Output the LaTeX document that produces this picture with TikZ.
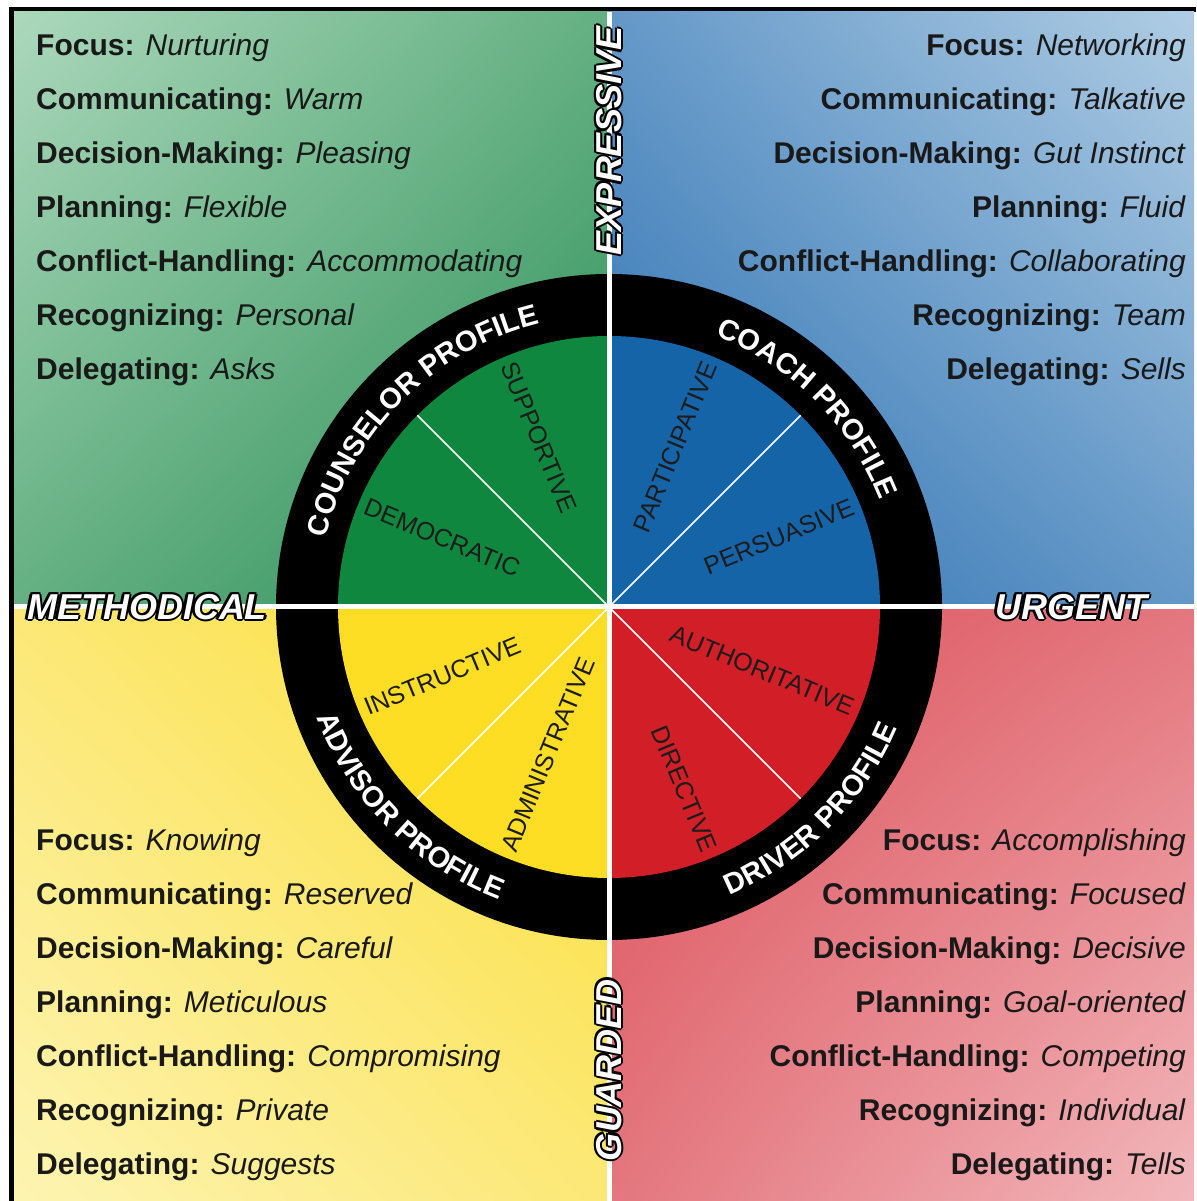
\documentclass[tikz,border=0pt]{standalone}
\usepackage{fontspec}
\setmainfont{Liberation Sans}
\usetikzlibrary{calc,shadings,decorations.text}
\tikzset{>=latex}

% Fonts
\newcommand\itemfont{\fontsize{30}{36}\selectfont}
\newcommand\wedgefont{\fontsize{25}{30}\selectfont}
\newcommand\ringfont{\fontsize{29}{34}\selectfont\bfseries}
\newcommand\axisfont{\fontsize{36}{42}\selectfont\bfseries\itshape}

% Colours
\definecolor{counLight}{RGB}{172,216,188}
\definecolor{counMid}{RGB}{100,176,130}
\definecolor{counDark}{RGB}{40,140,85}
\definecolor{coachLight}{RGB}{176,205,228}
\definecolor{coachMid}{RGB}{100,152,200}
\definecolor{coachDark}{RGB}{40,110,176}
\definecolor{advLight}{RGB}{253,244,178}
\definecolor{advMid}{RGB}{252,232,118}
\definecolor{advDark}{RGB}{252,222,52}
\definecolor{drvLight}{RGB}{242,184,188}
\definecolor{drvMid}{RGB}{228,118,126}
\definecolor{drvDark}{RGB}{220,80,90}
\definecolor{counsel}{RGB}{16,135,62}
\definecolor{coach}{RGB}{22,100,168}
\definecolor{advisor}{RGB}{253,222,36}
\definecolor{driver}{RGB}{210,30,38}
\definecolor{ink}{RGB}{28,28,28}

\tikzset{
  item/.style={inner sep=0pt, text=black!90, font=\itemfont},
  wedge label/.style={inner sep=0pt, text=ink, font=\wedgefont},
  axis label/.style={inner sep=0pt, font=\axisfont},
  ring text/.style={decorate, decoration={text along path, text align=center,
      text color=white, text={|\ringfont|#1}}},
  divider/.style={white, line width=1.5pt},
  cross/.style={white, line width=5pt},
}

\begin{document}
\begin{tikzpicture}[x=1pt,y=1pt]
  % Canvas and frame
  \useasboundingbox (0,0) rectangle (1196,1201);
  \fill[white] (0,0) rectangle (1196,1201);
  \fill[black] (9,0) rectangle (14,1194);
  \fill[black] (9,1189) rectangle (1196,1194);

  % Quadrants
  \coordinate (c) at (609,594);
  \shade[upper left=counLight, upper right=counMid, lower left=counMid, lower right=counDark]
    (14,594) rectangle (609,1189);
  \shade[upper left=coachMid, upper right=coachLight, lower left=coachDark, lower right=coachMid]
    (609,594) rectangle (1194,1189);
  \shade[upper left=advMid, upper right=advDark, lower left=advLight, lower right=advMid]
    (14,0) rectangle (609,594);
  \shade[upper left=drvDark, upper right=drvMid, lower left=drvMid, lower right=drvLight]
    (609,0) rectangle (1194,594);

  % Wheel
  \fill[black] (c) circle[radius=333pt];
  \fill[counsel] (c) -- ++(90:271pt) arc[start angle=90, end angle=180, radius=271pt] -- cycle;
  \fill[coach] (c) -- ++(0:271pt) arc[start angle=0, end angle=90, radius=271pt] -- cycle;
  \fill[advisor] (c) -- ++(180:271pt) arc[start angle=180, end angle=270, radius=271pt] -- cycle;
  \fill[driver] (c) -- ++(270:271pt) arc[start angle=270, end angle=360, radius=271pt] -- cycle;
  \foreach \ang in {45,135,225,315}
    \draw[divider] (c) -- ++(\ang:271pt);

  % Cross
  \draw[cross] (609,0) -- (609,1189);
  \draw[cross] (14,594) -- (1194,594);

  % Ring labels
  \path[ring text=COUNSELOR PROFILE] ($(c)+(180:291.5pt)$) arc[start angle=180, end angle=90, radius=291.5pt];
  \path[ring text=COACH PROFILE] ($(c)+(90:291.5pt)$) arc[start angle=90, end angle=0, radius=291.5pt];
  \path[ring text=ADVISOR PROFILE] ($(c)+(180:312.5pt)$) arc[start angle=180, end angle=270, radius=312.5pt];
  \path[ring text=DRIVER PROFILE] ($(c)+(270:312.5pt)$) arc[start angle=270, end angle=360, radius=312.5pt];

  % Wedge labels
  \foreach \ang/\lbl in {157.5/DEMOCRATIC, 112.5/SUPPORTIVE, 202.5/INSTRUCTIVE, 247.5/ADMINISTRATIVE}
    \node[wedge label, anchor=west, rotate=\ang-180] (\lbl) at ($(c)+(\ang:264pt)$) {\lbl};
  \foreach \ang/\lbl in {67.5/PARTICIPATIVE, 22.5/PERSUASIVE, 292.5/DIRECTIVE, 337.5/AUTHORITATIVE}
    \node[wedge label, anchor=east, rotate=\ang] (\lbl) at ($(c)+(\ang:264pt)$) {\lbl};

  % Profiles
  \foreach \lbl/\val [count=\i] in {Focus/Nurturing, Communicating/Warm, Decision-Making/Pleasing,
      Planning/Flexible, Conflict-Handling/Accommodating, Recognizing/Personal, Delegating/Asks}
    \node[item, anchor=base west] (coun\i) at (36,{1199-54*\i}) {\textbf{\lbl:} \textit{\val}};
  \foreach \lbl/\val [count=\i] in {Focus/Networking, Communicating/Talkative, Decision-Making/Gut Instinct,
      Planning/Fluid, Conflict-Handling/Collaborating, Recognizing/Team, Delegating/Sells}
    \node[item, anchor=base east] (coach\i) at (1186,{1199-54*\i}) {\textbf{\lbl:} \textit{\val}};
  \foreach \lbl/\val [count=\i] in {Focus/Knowing, Communicating/Reserved, Decision-Making/Careful,
      Planning/Meticulous, Conflict-Handling/Compromising, Recognizing/Private, Delegating/Suggests}
    \node[item, anchor=base west] (adv\i) at (36,{404-54*\i}) {\textbf{\lbl:} \textit{\val}};
  \foreach \lbl/\val [count=\i] in {Focus/Accomplishing, Communicating/Focused, Decision-Making/Decisive,
      Planning/Goal-oriented, Conflict-Handling/Competing, Recognizing/Individual, Delegating/Tells}
    \node[item, anchor=base east] (drv\i) at (1186,{404-54*\i}) {\textbf{\lbl:} \textit{\val}};

  % Axis labels (outlined)
  \foreach \nm/\px/\py/\rot/\txt in {expr/609/1060/90/EXPRESSIVE, meth/147/594/0/METHODICAL,
      urg/1071/594/0/URGENT, guard/609/131/90/GUARDED} {
    \foreach \a in {0,45,...,315}
      \node[axis label, text=black, rotate=\rot] (\nm\a) at ($(\px,\py)+(\a:2.2pt)$) {\txt};
    \node[axis label, text=white, rotate=\rot] (\nm) at (\px,\py) {\txt};
  }
\end{tikzpicture}
\end{document}
